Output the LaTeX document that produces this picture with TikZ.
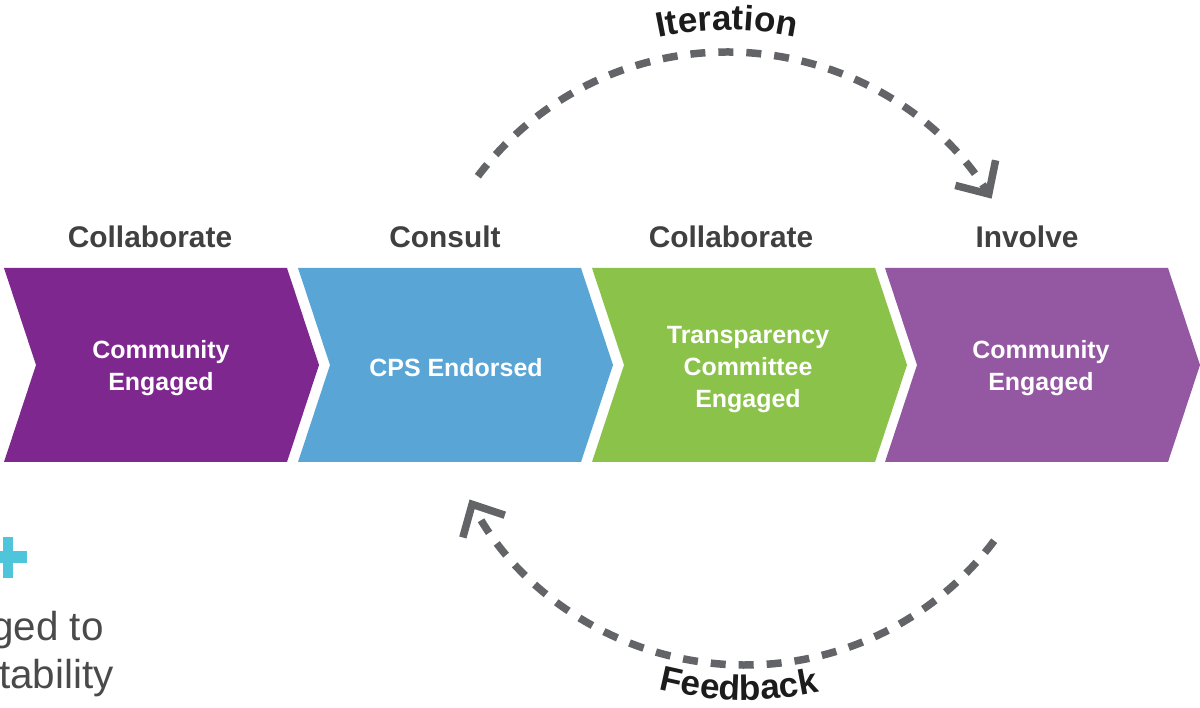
\documentclass[tikz,border=0pt]{standalone}
\usepackage{fontspec}
\setmainfont{Liberation Sans}
\usetikzlibrary{arrows.meta,positioning,calc,decorations.text}
\definecolor{collaborate_purple}{HTML}{7D278F}
\definecolor{consult_blue}{HTML}{59A5D6}
\definecolor{collaborate_green}{HTML}{8BC34A}
\definecolor{involve_violet}{HTML}{9457A2}
\definecolor{header_grey}{HTML}{404040}
\definecolor{loop_grey}{HTML}{636468}
\definecolor{loop_label_black}{HTML}{1C1C1C}
\definecolor{body_grey}{HTML}{4A4A4A}
\definecolor{plus_cyan}{HTML}{4EC5DB}
\tikzstyle{stage_header} =[font=\bfseries\fontsize{17}{21}\selectfont,text=header_grey,anchor=base,inner sep=0pt]
\tikzstyle{stage_text} =[font=\bfseries\fontsize{14.2}{18.2}\selectfont,text=white,align=center]
\tikzstyle{loop_arrow} =[draw=loop_grey,line width=0.15cm,dash pattern=on 0.30cm off 0.26cm,-{Straight Barb[length=0.5cm,width=0.95cm]}]
\tikzstyle{body_line} =[font=\fontsize{23}{27}\selectfont,text=body_grey,anchor=base east,inner sep=0pt]

\begin{document}
\begin{tikzpicture}[x=0.02cm,y=0.02cm]

    \clip (0,0) rectangle (1200,707);

    % Chevron band
    \foreach \x/\stagecolour in {4/collaborate_purple,298/consult_blue,592/collaborate_green,885/involve_violet}
        \fill[\stagecolour] (\x,439) -- ++(283,0) -- ++(32,-97) -- ++(-32,-97) -- ++(-283,0) -- ++(32,97) -- cycle;

    % Texts inside the chevrons
    \node[stage_text] (community_engaged_start) at (161,339) {Community\\Engaged};
    \node[stage_text] (cps_endorsed) at (456,339) {CPS Endorsed};
    \node[stage_text] (transparency_committee_engaged) at (748,337) {Transparency\\Committee\\Engaged};
    \node[stage_text] (community_engaged_end) at (1041,339) {Community\\Engaged};

    % Headers above the chevrons
    \node[stage_header] (collaborate_start_header) at (150,459) {Collaborate};
    \node[stage_header] (consult_header) at (445,459) {Consult};
    \node[stage_header] (collaborate_end_header) at (731,459) {Collaborate};
    \node[stage_header] (involve_header) at (1027,459) {Involve};

    % Iteration loop over the top
    \coordinate (iteration_centre) at (727,343);
    \coordinate (iteration_start) at ($(iteration_centre)+(143:312)$);
    \draw[loop_arrow] (iteration_start) arc[start angle=143,end angle=32,radius=312];
    \path[decorate,decoration={text along path,text align=center,text color=loop_label_black,
        text={|\bfseries\fontsize{20}{24}\selectfont|Iteration}}]
        (iteration_centre) ++(125:334) arc[start angle=125,end angle=55,radius=334];

    % Feedback loop underneath
    \coordinate (feedback_centre) at (745,354);
    \coordinate (feedback_start) at ($(feedback_centre)+(-37:312)$);
    \draw[loop_arrow] (feedback_start) arc[start angle=-37,end angle=-152,radius=312];
    \path[decorate,decoration={text along path,text align=center,text color=loop_label_black,
        text={|\bfseries\fontsize{20}{24}\selectfont|Feedback}}]
        (feedback_centre) ++(-121:347) arc[start angle=-121,end angle=-61,radius=347];

    % Plus sign and text at the lower left
    \fill[plus_cyan] (3,129) rectangle (13,170);
    \fill[plus_cyan] (-12,144) rectangle (27,156);
    \node[body_line] (engaged_to_line) at (104,67) {ged to};
    \node[body_line] (accountability_line) at (114,19) {tability};

\end{tikzpicture}
\end{document}
